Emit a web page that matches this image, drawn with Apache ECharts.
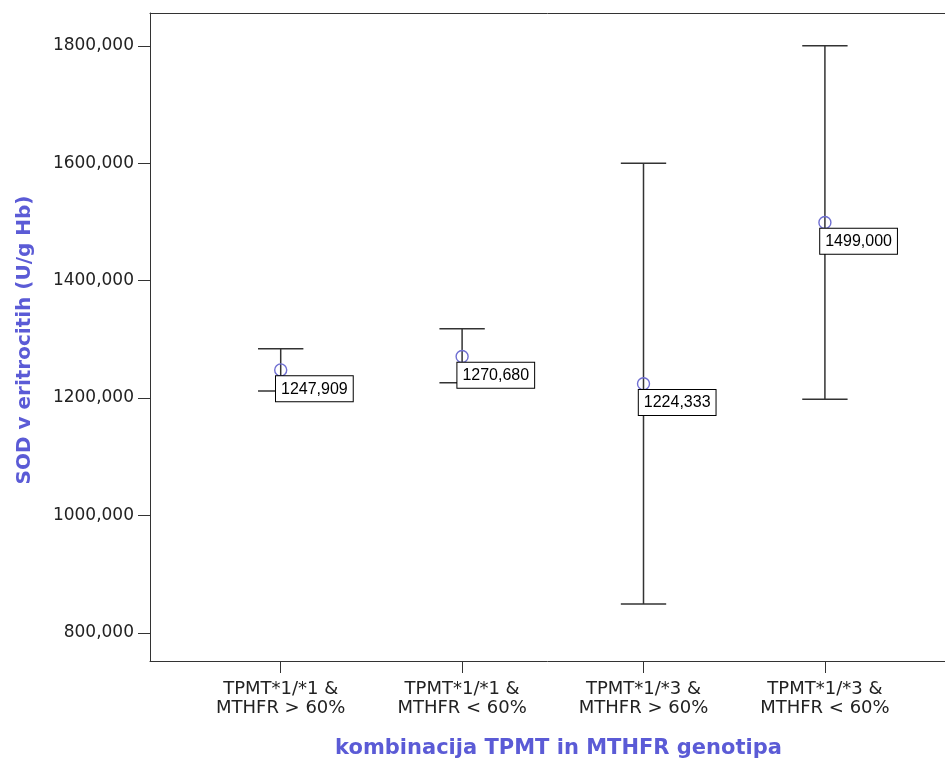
<!DOCTYPE html>
<html><head><meta charset="utf-8">
<script src="https://cdn.jsdelivr.net/npm/echarts@6/dist/echarts.min.js"></script>
<style>html,body{margin:0;padding:0;background:#fff}#c{width:945px;height:764px}</style>
</head><body><div id="c"></div>
<script>
const categories = ['TPMT*1/*1 &\nMTHFR > 60%', 'TPMT*1/*1 &\nMTHFR < 60%', 'TPMT*1/*3 &\nMTHFR > 60%', 'TPMT*1/*3 &\nMTHFR < 60%'];
const xPositions = [1, 2, 3, 4];
const means = [1247.909, 1270.680, 1224.333, 1499.000];
const upper = [1284, 1318, 1600, 1800];
const lower = [1212, 1226, 849, 1198];
const yTicks = [800, 1000, 1200, 1400, 1600, 1800];
const yTitle = 'SOD v eritrocitih (U/g Hb)';
const xTitle = 'kombinacija TPMT in MTHFR genotipa';

const fmt = v => v.toFixed(3).replace('.', ',');
const FONT = '"DejaVu Sans", Verdana, sans-serif';
const LFONT = '"Liberation Sans", Arial, sans-serif';
const BLUE = '#5b5bd6';
const AX = '#333';

const chart = echarts.init(document.getElementById('c'), null, {renderer: 'canvas'});
chart.setOption({
  backgroundColor: '#fff',
  animation: false,
  grid: {left: 150, top: 13, right: 0, bottom: 102, show: false, containLabel: false},
  xAxis: [{
    type: 'value', min: 0.2795, max: 4.662, position: 'bottom',
    axisLine: {show: true, onZero: false, lineStyle: {color: AX, width: 1}},
    axisTick: {show: true, customValues: xPositions, length: 12, lineStyle: {color: AX}},
    axisLabel: {show: true, customValues: xPositions, formatter: v => categories[Math.round(v) - 1],
      fontSize: 18, lineHeight: 19, margin: 19, color: '#222', fontFamily: FONT},
    splitLine: {show: false},
    name: xTitle, nameLocation: 'middle', nameGap: 77,
    nameTextStyle: {color: BLUE, fontSize: 21, fontWeight: 'bold', fontFamily: FONT, padding: [0, 0, 0, 22]}
  }, {
    type: 'value', min: 0.2795, max: 4.662, position: 'top',
    axisLine: {show: true, onZero: false, lineStyle: {color: AX, width: 1}},
    axisTick: {show: false}, axisLabel: {show: false}, splitLine: {show: false}
  }],
  yAxis: {
    type: 'value', min: 752, max: 1856,
    axisLine: {show: true, onZero: false, lineStyle: {color: AX, width: 1}},
    axisTick: {show: true, customValues: yTicks, length: 12, lineStyle: {color: AX}},
    axisLabel: {show: true, customValues: yTicks, formatter: v => fmt(v), fontSize: 17, margin: 16, color: '#222', fontFamily: FONT},
    splitLine: {show: false}
  },
  graphic: [{
    type: 'text', x: 25, y: 340, rotation: Math.PI / 2,
    style: {text: yTitle, fill: BLUE, font: 'bold 20px ' + FONT, textAlign: 'center', textVerticalAlign: 'middle'}
  }],
  series: [
    {
      type: 'custom', z: 1, xAxisIndex: 0,
      data: xPositions.map((x, i) => [x, lower[i], upper[i]]),
      renderItem: (params, api) => {
        const x = api.value(0);
        const lo = api.coord([x, api.value(1)]);
        const hi = api.coord([x, api.value(2)]);
        const hw = api.size([0.25, 0])[0] / 2;
        const st = {stroke: '#333', lineWidth: 1.5};
        return {type: 'group', children: [
          {type: 'line', shape: {x1: lo[0], y1: lo[1], x2: hi[0], y2: hi[1]}, style: st},
          {type: 'line', shape: {x1: hi[0] - hw, y1: hi[1], x2: hi[0] + hw, y2: hi[1]}, style: st},
          {type: 'line', shape: {x1: lo[0] - hw, y1: lo[1], x2: lo[0] + hw, y2: lo[1]}, style: st}
        ]};
      }
    },
    {
      type: 'scatter', z: 5, xAxisIndex: 0,
      data: xPositions.map((x, i) => [x, means[i]]),
      symbol: 'circle', symbolSize: 12,
      itemStyle: {color: 'rgba(0,0,0,0)', borderColor: '#6f6fd2', borderWidth: 1.4, opacity: 1},
      label: {show: true, formatter: p => fmt(p.value[1]), position: [2, 13], opacity: 1,
        fontSize: 16, lineHeight: 18, color: '#000', fontFamily: LFONT, backgroundColor: '#fff',
        borderColor: '#000', borderWidth: 1, padding: [4, 5, 3, 5]},
      emphasis: {disabled: true}
    }
  ]
});
</script></body></html>
